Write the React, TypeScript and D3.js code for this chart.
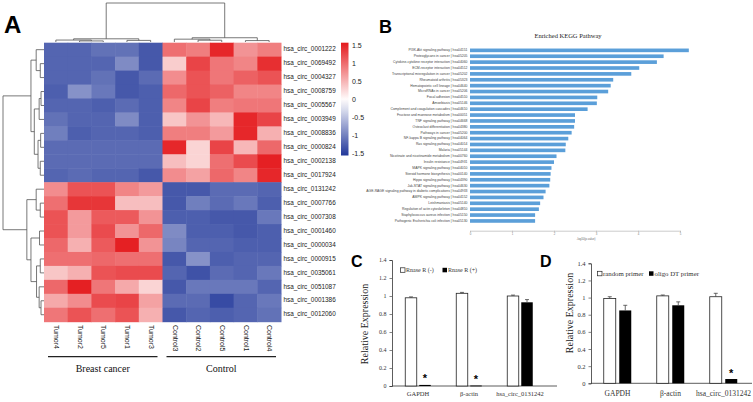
import { useEffect, useRef } from 'react'
import * as d3 from 'd3'

// ---- Panel A: heatmap data ----
const rowLabels = [
  'hsa_circ_0001222', 'hsa_circ_0069492', 'hsa_circ_0004327', 'hsa_circ_0008759', 'hsa_circ_0005567',
  'hsa_circ_0003949', 'hsa_circ_0008836', 'hsa_circ_0000824', 'hsa_circ_0002138', 'hsa_circ_0017924',
  'hsa_circ_0131242', 'hsa_circ_0007766', 'hsa_circ_0007308', 'hsa_circ_0001460', 'hsa_circ_0000034',
  'hsa_circ_0000915', 'hsa_circ_0035061', 'hsa_circ_0051087', 'hsa_circ_0001386', 'hsa_circ_0012060',
]
const colLabels = ['Tumor4', 'Tumor2', 'Tumor5', 'Tumor1', 'Tumor3', 'Control3', 'Control2', 'Control5', 'Control1', 'Control4']

const heatValues: number[][] = [
  [-1.2, -1.2, -1.1, -1.1, -1.3, 1.0, 0.9, 1.5, 0.75, 0.9],
  [-1.2, -1.2, -1.2, -0.9, -1.3, 0.35, 1.3, 0.95, 0.85, 1.45],
  [-1.2, -1.2, -1.1, -1.3, -1.15, 0.8, 1.2, 0.95, 1.1, 1.2],
  [-1.25, -0.85, -1.05, -1.3, -1.25, 1.05, 1.2, 1.1, 0.85, 0.85],
  [-1.2, -1.2, -1.25, -1.15, -1.25, 0.85, 1.3, 0.9, 0.95, 0.95],
  [-1.1, -1.2, -1.2, -0.9, -1.25, 0.4, 0.75, 0.5, 1.5, 1.3],
  [-1.0, -1.25, -1.2, -1.2, -1.25, 0.9, 0.9, 0.7, 1.5, 0.55],
  [-1.15, -1.15, -1.15, -1.15, -1.15, 1.5, 0.3, 1.3, 0.5, 1.05],
  [-1.15, -1.15, -1.15, -1.15, -1.15, 0.45, 0.3, 1.0, 1.25, 1.55],
  [-1.2, -1.15, -1.2, -1.2, -1.3, 0.8, 0.65, 1.05, 0.85, 1.5],
  [0.8, 1.2, 1.2, 0.85, 0.7, -1.3, -1.3, -1.15, -1.15, -1.2],
  [1.0, 1.4, 1.4, 0.45, 0.45, -1.3, -1.0, -1.15, -1.05, -1.25],
  [1.2, 0.7, 1.15, 1.15, 0.75, -1.25, -1.25, -1.3, -1.3, -1.05],
  [1.2, 0.7, 1.25, 0.75, 1.05, -0.9, -1.25, -1.25, -1.3, -1.25],
  [1.05, 0.55, 1.15, 1.55, 0.75, -0.95, -1.2, -1.2, -1.25, -1.25],
  [1.0, 1.0, 1.05, 1.0, 1.0, -1.3, -0.85, -1.25, -1.2, -1.2],
  [0.4, 0.55, 1.2, 1.25, 1.25, -1.2, -1.35, -1.15, -1.2, -1.05],
  [1.05, 1.55, 0.95, 0.6, 0.3, -1.3, -1.05, -1.05, -1.05, -1.2],
  [0.6, 0.8, 1.25, 1.3, 0.65, -1.15, -1.15, -1.4, -1.2, -1.05],
  [0.95, 1.2, 1.0, 1.2, 0.55, -1.3, -1.2, -1.25, -1.2, -1.1],
]

// linkage: [childA, childB, height]; leaves are 0..n-1, merged nodes n, n+1, ...
const rowLinkage: [number, number, number][] = [
  [1, 2, 1.0], [0, 20, 2.1], [3, 4, 0.8], [22, 5, 1.3], [6, 7, 0.9], [8, 9, 1.0],
  [24, 25, 1.6], [23, 26, 2.6], [21, 27, 3.5],
  [11, 12, 1.0], [10, 29, 2.1], [13, 14, 1.2], [15, 16, 1.0], [18, 19, 0.8], [17, 33, 1.3],
  [32, 34, 2.0], [31, 35, 3.5], [30, 36, 4.6], [28, 37, 11],
]
const colLinkage: [number, number, number][] = [
  [1, 2, 0.3], [0, 10, 0.55], [3, 4, 0.45], [11, 12, 0.9],
  [6, 7, 0.5], [5, 14, 0.8], [8, 9, 0.4], [15, 16, 1.2], [13, 17, 11],
]
const legendTicks = [1.5, 1, 0.5, 0, -0.5, -1, -1.5]
const groupNames = ['Breast cancer', 'Control']

// ---- Panel B: KEGG enrichment ----
const keggPathways = [
  'PI3K-Akt signaling pathway | hsa04151', 'Proteoglycans in cancer | hsa05205',
  'Cytokine-cytokine receptor interaction | hsa04060', 'ECM-receptor interaction | hsa04512',
  'Transcriptional misregulation in cancer | hsa05202', 'Rheumatoid arthritis | hsa05323',
  'Hematopoietic cell lineage | hsa04640', 'MicroRNAs in cancer | hsa05206',
  'Focal adhesion | hsa04510', 'Amoebiasis | hsa05146',
  'Complement and coagulation cascades | hsa04610', 'Fructose and mannose metabolism | hsa00051',
  'TNF signaling pathway | hsa04668', 'Osteoclast differentiation | hsa04380',
  'Pathways in cancer | hsa05200', 'NF-kappa B signaling pathway | hsa04064',
  'Ras signaling pathway | hsa04014', 'Malaria | hsa05144',
  'Nicotinate and nicotinamide metabolism | hsa00760', 'Insulin resistance | hsa04931',
  'MAPK signaling pathway | hsa04010', 'Steroid hormone biosynthesis | hsa00140',
  'Hippo signaling pathway | hsa04390', 'Jak-STAT signaling pathway | hsa04630',
  'AGE-RAGE signaling pathway in diabetic complications | hsa04933', 'AMPK signaling pathway | hsa04152',
  'Leishmaniasis | hsa05140', 'Regulation of actin cytoskeleton | hsa04810',
  'Staphylococcus aureus infection | hsa05150', 'Pathogenic Escherichia coli infection | hsa05130',
]
const keggValues = [
  5.21, 4.61, 4.45, 4.03, 3.84, 3.41, 3.35, 3.29, 3.03, 3.02,
  2.8, 2.5, 2.5, 2.48, 2.42, 2.34, 2.28, 2.27, 2.06, 2.0,
  1.94, 1.92, 1.91, 1.89, 1.8, 1.75, 1.67, 1.64, 1.55, 1.55,
]
const keggTicks = [0, 1, 2, 3, 4, 5]

// ---- Panels C and D: qPCR ----
const genes = ['GAPDH', 'β-actin', 'hsa_circ_0131242']
const yTicks = [0, 0.2, 0.4, 0.6, 0.8, 1, 1.2, 1.4]
const rnaseMinus = [0.98, 1.03, 1.0]
const rnaseMinusErr = [0.01, 0.01, 0.01]
const rnasePlus = [0.012, 0.005, 0.93]
const rnasePlusErr = [0, 0, 0.03]
const rnaseStar = [true, true, false]
const randomPrimer = [0.99, 1.02, 1.01]
const randomPrimerErr = [0.02, 0.01, 0.04]
const oligoPrimer = [0.85, 0.91, 0.05]
const oligoPrimerErr = [0.06, 0.04, 0]
const oligoStar = [false, false, true]

const SANS = 'Liberation Sans, Arial, sans-serif'
const SERIF = 'Liberation Serif, Times New Roman, serif'

// positions of leaves & merged nodes along the leaf axis
function dendroSegments(n: number, link: [number, number, number][], leafPos: (i: number) => number) {
  const pos: number[] = []
  const ht: number[] = []
  for (let i = 0; i < n; i++) { pos.push(leafPos(i)); ht.push(0) }
  const segs: { p1: number; h1: number; p2: number; h2: number; h: number }[] = []
  link.forEach(([a, b, h]) => {
    segs.push({ p1: pos[a], h1: ht[a], p2: pos[b], h2: ht[b], h })
    pos.push((pos[a] + pos[b]) / 2)
    ht.push(h)
  })
  return segs
}

export default function App() {
  const svgRef = useRef<SVGSVGElement>(null)

  useEffect(() => {
    if (!svgRef.current) return
    const svg = d3.select(svgRef.current)
    svg.selectAll('*').remove()

    svg.append('rect').attr('width', 753).attr('height', 402).attr('fill', '#fff')

    // ========== Panel A ==========
    const x = d3.scaleBand<number>().domain(d3.range(colLabels.length)).range([44, 281])
    const y = d3.scaleBand<number>().domain(d3.range(rowLabels.length)).range([42.7, 321.7])
    const color = d3.scaleLinear<string>()
      .domain([-1.55, 0, 1.6])
      .range(['#22389a', '#ffffff', '#e4191c'])
      .clamp(true)

    const A = svg.append('g')
    heatValues.forEach((row, i) => {
      row.forEach((v, j) => {
        A.append('rect')
          .attr('x', x(j)!)
          .attr('y', y(i)!)
          .attr('width', x.bandwidth() + 0.5)
          .attr('height', y.bandwidth() + 0.5)
          .attr('fill', color(v))
      })
    })

    A.selectAll('.rowlab')
      .data(rowLabels)
      .enter().append('text')
      .attr('x', 283.5)
      .attr('y', (_d, i) => y(i)! + y.bandwidth() / 2)
      .attr('dominant-baseline', 'middle')
      .attr('font-family', SANS)
      .attr('font-size', 6.4)
      .attr('fill', '#222')
      .text(d => d)

    A.selectAll('.collab')
      .data(colLabels)
      .enter().append('text')
      .attr('transform', (_d, j) => `translate(${x(j)! + x.bandwidth() / 2},325) rotate(90)`)
      .attr('dominant-baseline', 'middle')
      .attr('font-family', SANS)
      .attr('font-size', 7)
      .attr('fill', '#222')
      .text(d => d)

    // top dendrogram
    const hTop = d3.scaleLinear().domain([0, 11]).range([42, 3])
    const topSegs = dendroSegments(colLabels.length, colLinkage, i => x(i)! + x.bandwidth() / 2)
    topSegs.forEach(s => {
      A.append('path')
        .attr('d', `M${s.p1},${hTop(s.h1)}V${hTop(s.h)}H${s.p2}V${hTop(s.h2)}`)
        .attr('fill', 'none').attr('stroke', '#555').attr('stroke-width', 0.8)
    })
    // left dendrogram
    const hLeft = d3.scaleLinear().domain([0, 11]).range([44, 3])
    const leftSegs = dendroSegments(rowLabels.length, rowLinkage, i => y(i)! + y.bandwidth() / 2)
    leftSegs.forEach(s => {
      A.append('path')
        .attr('d', `M${hLeft(s.h1)},${s.p1}H${hLeft(s.h)}V${s.p2}H${hLeft(s.h2)}`)
        .attr('fill', 'none').attr('stroke', '#555').attr('stroke-width', 0.8)
    })

    // colour legend
    const legY = d3.scaleLinear().domain([1.6, -1.55]).range([42.7, 155.5])
    const defs = svg.append('defs')
    const grad = defs.append('linearGradient').attr('id', 'hmgrad')
      .attr('x1', '0%').attr('x2', '0%').attr('y1', '0%').attr('y2', '100%')
    d3.range(0, 1.0001, 0.1).forEach(t => {
      const v = legY.invert(42.7 + t * (155.5 - 42.7))
      grad.append('stop').attr('offset', `${t * 100}%`).attr('stop-color', color(v))
    })
    A.append('rect').attr('x', 341).attr('y', 42.7).attr('width', 7.5).attr('height', 155.5 - 42.7)
      .attr('fill', 'url(#hmgrad)')
    A.selectAll('.legt')
      .data(legendTicks)
      .enter().append('text')
      .attr('x', 352)
      .attr('y', d => legY(d))
      .attr('dominant-baseline', 'middle')
      .attr('font-family', SANS)
      .attr('font-size', 7)
      .attr('fill', '#222')
      .text(d => String(d))

    // group brackets
    const groupSpans = [[0, 4], [5, 9]]
    groupSpans.forEach(([a, b], k) => {
      const x0 = x(a)! + 4
      const x1 = x(b)! + x.bandwidth() - 5
      A.append('line').attr('x1', x0).attr('x2', x1).attr('y1', 356.7).attr('y2', 356.7)
        .attr('stroke', '#222').attr('stroke-width', 1.2)
      A.append('text')
        .attr('x', (x0 + x1) / 2).attr('y', 371.5)
        .attr('text-anchor', 'middle')
        .attr('font-family', SERIF).attr('font-size', 10).attr('fill', '#111')
        .text(groupNames[k])
    })

    // ========== Panel B ==========
    const B = svg.append('g')
    const bx = d3.scaleLinear().domain([0, 5]).range([470, 680])
    const by = d3.scaleBand<number>().domain(d3.range(keggPathways.length)).range([46.3, 225]).padding(0.38)
    B.append('text').attr('x', 568).attr('y', 37.5).attr('text-anchor', 'middle')
      .attr('font-family', SERIF).attr('font-size', 6.5).attr('fill', '#222').text('Enriched KEGG Pathway')
    keggValues.forEach((v, i) => {
      B.append('rect')
        .attr('x', bx(0)).attr('y', by(i)!)
        .attr('width', bx(v) - bx(0)).attr('height', by.bandwidth())
        .attr('fill', '#5b9fd9')
      B.append('text')
        .attr('x', 467.5).attr('y', by(i)! + by.bandwidth() / 2)
        .attr('text-anchor', 'end').attr('dominant-baseline', 'middle')
        .attr('font-family', SANS).attr('font-size', 3.4).attr('fill', '#444')
        .text(keggPathways[i])
    })
    const bAxis = B.append('g').attr('transform', 'translate(0,230.7)')
      .call(d3.axisBottom(bx).tickValues(keggTicks).tickSize(1.5).tickFormat(d => String(d)))
    bAxis.select('.domain').attr('stroke', '#aaa').attr('stroke-width', 0.6)
    bAxis.selectAll('line').attr('stroke', '#aaa').attr('stroke-width', 0.5)
    bAxis.selectAll('text').attr('font-size', 2.8).attr('fill', '#777').attr('dy', 0).attr('y', 4)
      .attr('font-family', SANS)
    B.append('text').attr('x', 586).attr('y', 239.5).attr('text-anchor', 'middle')
      .attr('font-family', SANS).attr('font-size', 2.8).attr('fill', '#666').text('-log10(p-value)')

    // ========== Panels C & D ==========
    const drawBars = (
      g: d3.Selection<SVGGElement, unknown, null, undefined>,
      cfg: {
        axisX: number; axisEnd: number; y0: number; y1: number; centers: [number, number];
        barW: number; gap: number; fs: number; labFs: number;
        white: number[]; whiteErr: number[]; black: number[]; blackErr: number[]; star: boolean[];
        legX: number; legY: number; leg1: string; leg2: string; leg2X: number; legFs: number;
        ylabX: number; ylabY: number; ylabFs: number; xlabY: number
      }
    ) => {
      const yy = d3.scaleLinear().domain([0, 1.4]).range([cfg.y0, cfg.y1])
      const xx = d3.scalePoint<string>().domain(genes).range(cfg.centers)
      const yAx = g.append('g').attr('transform', `translate(${cfg.axisX},0)`)
        .call(d3.axisLeft(yy).tickValues(yTicks).tickSize(2.5).tickPadding(3).tickFormat(d => String(+(+d).toFixed(1))))
      yAx.select('.domain').attr('stroke', '#333').attr('stroke-width', 0.8)
      yAx.selectAll('line').attr('stroke', '#333').attr('stroke-width', 0.6)
      yAx.selectAll('text').attr('font-family', SERIF).attr('font-size', cfg.fs).attr('fill', '#333')
      g.append('line').attr('x1', cfg.axisX).attr('x2', cfg.axisEnd).attr('y1', cfg.y0).attr('y2', cfg.y0)
        .attr('stroke', '#333').attr('stroke-width', 0.8)

      genes.forEach((gname, i) => {
        const c = xx(gname)!
        const wx = c - cfg.gap / 2 - cfg.barW
        const kx = c + cfg.gap / 2
        g.append('rect').attr('x', wx).attr('y', yy(cfg.white[i]))
          .attr('width', cfg.barW).attr('height', cfg.y0 - yy(cfg.white[i]))
          .attr('fill', '#fff').attr('stroke', '#222').attr('stroke-width', 0.8)
        g.append('rect').attr('x', kx).attr('y', yy(cfg.black[i]))
          .attr('width', cfg.barW).attr('height', Math.max(cfg.y0 - yy(cfg.black[i]), 0.8))
          .attr('fill', '#000')
        const errs: [number, number, number][] = [
          [wx + cfg.barW / 2, cfg.white[i], cfg.whiteErr[i]],
          [kx + cfg.barW / 2, cfg.black[i], cfg.blackErr[i]],
        ]
        errs.forEach(([ex, v, e]) => {
          if (e <= 0) return
          g.append('path')
            .attr('d', `M${ex},${yy(v)}V${yy(v + e)}M${ex - 2},${yy(v + e)}H${ex + 2}`)
            .attr('stroke', '#444').attr('stroke-width', 0.8).attr('fill', 'none')
        })
        if (cfg.star[i]) {
          g.append('text').attr('x', kx + cfg.barW / 2).attr('y', yy(cfg.black[i]) + 1.5 - 1)
            .attr('text-anchor', 'middle').attr('font-family', SANS).attr('font-weight', 'bold')
            .attr('font-size', 11).attr('fill', '#000').attr('dy', '0.55em')
            .attr('transform', `translate(0,-9)`)
            .text('*')
        }
        g.append('text').attr('x', c).attr('y', cfg.xlabY).attr('text-anchor', 'middle')
          .attr('font-family', SERIF).attr('font-size', cfg.labFs).attr('fill', '#333').text(gname)
      })

      // legend
      g.append('rect').attr('x', cfg.legX).attr('y', cfg.legY - 4.2).attr('width', 4.5).attr('height', 4.5)
        .attr('fill', '#fff').attr('stroke', '#222').attr('stroke-width', 0.7)
      g.append('text').attr('x', cfg.legX + 5.5).attr('y', cfg.legY)
        .attr('font-family', SERIF).attr('font-size', cfg.legFs).attr('fill', '#333').text(cfg.leg1)
      g.append('rect').attr('x', cfg.leg2X).attr('y', cfg.legY - 4.2).attr('width', 4.5).attr('height', 4.5)
        .attr('fill', '#000')
      g.append('text').attr('x', cfg.leg2X + 5.5).attr('y', cfg.legY)
        .attr('font-family', SERIF).attr('font-size', cfg.legFs).attr('fill', '#333').text(cfg.leg2)

      g.append('text')
        .attr('transform', `translate(${cfg.ylabX},${cfg.ylabY}) rotate(-90)`)
        .attr('text-anchor', 'middle')
        .attr('font-family', SERIF).attr('font-size', cfg.ylabFs).attr('fill', '#222')
        .text('Relative  Expression')
    }

    drawBars(svg.append('g'), {
      axisX: 392, axisEnd: 557, y0: 386, y1: 260, centers: [418, 520], barW: 11.5, gap: 2.5,
      fs: 6, labFs: 6.5,
      white: rnaseMinus, whiteErr: rnaseMinusErr, black: rnasePlus, blackErr: rnasePlusErr, star: rnaseStar,
      legX: 400.5, legY: 272, leg1: 'Rnase R (-)', leg2: 'Rnase R (+)', leg2X: 442.5, legFs: 6,
      ylabX: 368, ylabY: 324, ylabFs: 10, xlabY: 396,
    })
    drawBars(svg.append('g'), {
      axisX: 591, axisEnd: 752, y0: 383.3, y1: 263.3, centers: [617.5, 723.5], barW: 12, gap: 3.5,
      fs: 6.5, labFs: 7.5,
      white: randomPrimer, whiteErr: randomPrimerErr, black: oligoPrimer, blackErr: oligoPrimerErr, star: oligoStar,
      legX: 597.5, legY: 275.5, leg1: 'random primer', leg2: 'oligo DT primer', leg2X: 649, legFs: 6.8,
      ylabX: 573, ylabY: 313, ylabFs: 10, xlabY: 396,
    })

    // panel letters
    const letters: [string, number, number, number][] = [
      ['A', 4, 33, 24], ['B', 379, 33, 18], ['C', 351, 267, 16], ['D', 540, 267, 16],
    ]
    letters.forEach(([t, lx, ly, fs]) => {
      svg.append('text').attr('x', lx).attr('y', ly)
        .attr('font-family', SANS).attr('font-weight', 'bold').attr('font-size', fs).attr('fill', '#000')
        .text(t)
    })
  }, [])

  return (
    <svg
      ref={svgRef}
      width={753}
      height={402}
      style={{ position: 'absolute', left: 0, top: 0, display: 'block' }}
    />
  )
}
